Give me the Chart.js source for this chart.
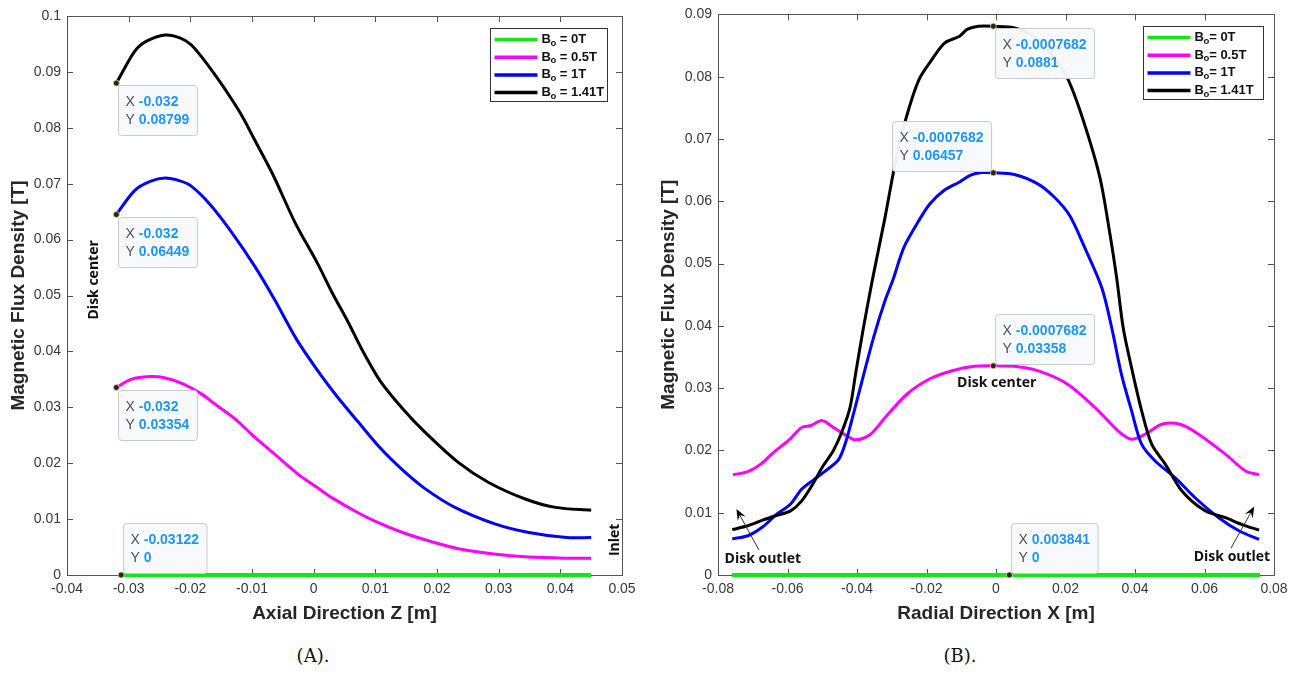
<!DOCTYPE html>
<html>
<head>
<meta charset="utf-8">
<script src="https://cdn.jsdelivr.net/npm/chart.js@4.4.1/dist/chart.umd.min.js"></script>
<style>
  html, body { margin: 0; padding: 0; background: #fff; }
  body { width: 1296px; height: 673px; position: relative; overflow: hidden; }
  .plot { position: absolute; top: 0; width: 648px; height: 640px; }
  .cap { position: absolute; top: 645px; width: 200px; text-align: center; line-height: 21px;
         font-family: "DejaVu Serif", "Liberation Serif", serif; font-size: 18px; color: #111; }
</style>
</head>
<body>
<div class="plot" style="left:0"><canvas id="plotA" width="648" height="640"></canvas></div>
<div class="plot" style="left:648px"><canvas id="plotB" width="648" height="640"></canvas></div>
<div class="cap" style="left:213px">(A).</div>
<div class="cap" style="left:860px">(B).</div>
<script>
// ---- data ----
var seriesLabels = ['Bo = 0T', 'Bo = 0.5T', 'Bo = 1T', 'Bo = 1.41T'];
var seriesLabelsB = ['Bo= 0T', 'Bo= 0.5T', 'Bo= 1T', 'Bo= 1.41T'];
var seriesColors = ['#14e614', '#ff00ff', '#0000ff', '#000000'];

// (A) axial direction
var zTicks = [-0.04, -0.03, -0.02, -0.01, 0, 0.01, 0.02, 0.03, 0.04, 0.05];
var fluxTicksA = [0, 0.01, 0.02, 0.03, 0.04, 0.05, 0.06, 0.07, 0.08, 0.09, 0.1];

var zGreen = [-0.0315, 0.045];
var bGreenA = [0, 0];

var zMag = [-0.032, -0.0296, -0.0266, -0.0242, -0.0212, -0.0182, -0.0158, -0.0127, -0.0097, -0.0061, -0.0025,
            0.0005, 0.003, 0.0066, 0.0102, 0.0144, 0.0187, 0.0235, 0.0289, 0.0349, 0.041, 0.045];
var bMagA = [0.03354, 0.0350, 0.0355, 0.0353, 0.0342, 0.0324, 0.0304, 0.0279, 0.0248, 0.0214, 0.0180,
             0.0157, 0.0138, 0.0115, 0.0095, 0.0076, 0.0061, 0.0047, 0.0038, 0.0032, 0.0030, 0.0030];

var zBlue = [-0.032, -0.029, -0.0265, -0.0241, -0.0217, -0.0199, -0.0169, -0.0133, -0.0096, -0.0063, -0.0028,
             0.0005, 0.0036, 0.0072, 0.0108, 0.0144, 0.018, 0.0229, 0.0295, 0.0349, 0.041, 0.045];
var bBlueA = [0.06449, 0.0688, 0.0704, 0.0710, 0.0705, 0.0696, 0.0664, 0.0613, 0.0553, 0.0492, 0.0422,
              0.0368, 0.0322, 0.0274, 0.0227, 0.0188, 0.0155, 0.0121, 0.0091, 0.0076, 0.0067, 0.0067];

var zBlack = [-0.032, -0.029, -0.0271, -0.0241, -0.0217, -0.0199, -0.0181, -0.0157, -0.0133, -0.0115, -0.0096,
              -0.0066, -0.003, 0.0006, 0.003, 0.0057, 0.0078, 0.0108, 0.0144, 0.018, 0.0235, 0.0283, 0.0343, 0.0392, 0.045];
var bBlackA = [0.08799, 0.0937, 0.0955, 0.0966, 0.0961, 0.0949, 0.0926, 0.0890, 0.0851, 0.0819, 0.0779,
               0.0716, 0.0630, 0.0558, 0.0505, 0.0450, 0.0404, 0.0347, 0.0298, 0.0256, 0.0201, 0.0166, 0.0136, 0.0121, 0.0116];

var tipZ = [-0.032, -0.032, -0.032, -0.03122];
var tipBA = [0.08799, 0.06449, 0.03354, 0];

// (B) radial direction
var xTicksB = [-0.08, -0.06, -0.04, -0.02, 0, 0.02, 0.04, 0.06, 0.08];
var fluxTicksB = [0, 0.01, 0.02, 0.03, 0.04, 0.05, 0.06, 0.07, 0.08, 0.09];

var rGreen = [-0.076, 0.076];
var bGreenB = [0, 0];

var rMag = [-0.0757, -0.0714, -0.0677, -0.064, -0.0597, -0.0559, -0.0533, -0.0501, -0.0468, -0.0431, -0.0404,
            -0.0361, -0.0319, -0.0255, -0.019, -0.0126, -0.0062, -0.0008, 0.0053, 0.012, 0.0207, 0.0294,
            0.0352, 0.039, 0.0429, 0.0477, 0.053, 0.0583, 0.066, 0.0718, 0.0757];
var bMagB = [0.0161, 0.0166, 0.0178, 0.0197, 0.0216, 0.0237, 0.0240, 0.0248, 0.0237, 0.0224, 0.0217,
             0.0226, 0.0253, 0.0291, 0.0315, 0.0328, 0.0335, 0.03358, 0.0335, 0.0328, 0.0306, 0.0264,
             0.0231, 0.0218, 0.0226, 0.0242, 0.0242, 0.0226, 0.0194, 0.0167, 0.0161];

var rBlue = [-0.0759, -0.0714, -0.0672, -0.063, -0.0591, -0.0559, -0.0522, -0.0484, -0.0452, -0.0431, -0.041,
             -0.0383, -0.0351, -0.0319, -0.0297, -0.0265, -0.0222, -0.019, -0.0148, -0.0105, -0.0073, -0.0041,
             -0.0008, 0.0053, 0.012, 0.0169, 0.0212, 0.0255, 0.0304, 0.0333, 0.0361, 0.039, 0.0419, 0.0458,
             0.0516, 0.0573, 0.0641, 0.0699, 0.0757];
var bBlueB = [0.0058, 0.0063, 0.0077, 0.0098, 0.0114, 0.0138, 0.0154, 0.0170, 0.0186, 0.0216, 0.0259,
              0.0317, 0.0384, 0.0441, 0.0473, 0.0526, 0.0569, 0.0596, 0.0618, 0.0631, 0.0642, 0.0646,
              0.06457, 0.0643, 0.0628, 0.0606, 0.0577, 0.0526, 0.0462, 0.0397, 0.0322, 0.0264, 0.0210, 0.0183,
              0.0156, 0.0124, 0.0092, 0.0071, 0.0057];

var rBlack = [-0.0759, -0.0714, -0.0672, -0.063, -0.0591, -0.0559, -0.0527, -0.05, -0.0468, -0.0442, -0.042,
              -0.0404, -0.0383, -0.0356, -0.0319, -0.0292, -0.026, -0.0222, -0.0185, -0.0148, -0.0105, -0.0083,
              -0.0051, -0.0008, 0.0056, 0.0115, 0.0165, 0.0207, 0.0251, 0.0299, 0.0328, 0.0347, 0.0366, 0.039,
              0.0419, 0.0448, 0.0487, 0.0535, 0.0602, 0.066, 0.0708, 0.0757];
var bBlackB = [0.0073, 0.0079, 0.0088, 0.0096, 0.0103, 0.0119, 0.0146, 0.0173, 0.0200, 0.0232, 0.0269,
               0.0323, 0.0392, 0.0473, 0.0575, 0.0655, 0.0731, 0.0795, 0.0827, 0.0854, 0.0865, 0.0876,
               0.0881, 0.0881, 0.0878, 0.0862, 0.0832, 0.0796, 0.0730, 0.0638, 0.0547, 0.0478, 0.0397, 0.0333,
               0.0264, 0.0210, 0.0178, 0.0135, 0.0103, 0.0092, 0.0081, 0.0072];

var tipR = [-0.0007682, -0.0007682, -0.0007682, 0.003841];
var tipBB = [0.0881, 0.06457, 0.03358, 0];

// ---- helpers ----
function pts(xs, ys) {
  return xs.map(function (v, i) { return { x: v, y: ys[i] }; });
}

var SANS = '"Liberation Sans", Arial, sans-serif';

function roundBox(ctx, x, y, w, h, r) {
  ctx.beginPath();
  ctx.moveTo(x + r, y);
  ctx.arcTo(x + w, y, x + w, y + h, r);
  ctx.arcTo(x + w, y + h, x, y + h, r);
  ctx.arcTo(x, y + h, x, y, r);
  ctx.arcTo(x, y, x + w, y, r);
  ctx.closePath();
}

var decor = {
  id: 'decor',
  beforeDatasetsDraw: function (chart) {
    var ctx = chart.ctx, a = chart.chartArea, xs = chart.scales.x, ys = chart.scales.y;
    ctx.save();
    ctx.strokeStyle = '#555';
    ctx.lineWidth = 1;
    ctx.beginPath();
    xs.ticks.forEach(function (t) {
      var p = Math.round(xs.getPixelForValue(t.value)) + 0.5;
      ctx.moveTo(p, a.bottom); ctx.lineTo(p, a.bottom - 6);
      ctx.moveTo(p, a.top); ctx.lineTo(p, a.top + 6);
    });
    ys.ticks.forEach(function (t) {
      var p = Math.round(ys.getPixelForValue(t.value)) + 0.5;
      ctx.moveTo(a.left, p); ctx.lineTo(a.left + 6, p);
      ctx.moveTo(a.right, p); ctx.lineTo(a.right - 6, p);
    });
    ctx.stroke();
    ctx.strokeRect(Math.round(a.left) + 0.5, Math.round(a.top) + 0.5,
                   Math.round(a.right - a.left), Math.round(a.bottom - a.top));
    ctx.restore();
  },
  afterDatasetsDraw: function (chart, args, o) {
    var ctx = chart.ctx, a = chart.chartArea, xs = chart.scales.x, ys = chart.scales.y;
    ctx.save();

    // text notes
    ctx.fillStyle = '#111';
    ctx.font = 'bold 14px "Open Sans", ' + SANS;
    ctx.textAlign = 'center';
    ctx.textBaseline = 'middle';
    (o.notes || []).forEach(function (n) {
      ctx.save();
      ctx.translate(xs.getPixelForValue(n.x), ys.getPixelForValue(n.y));
      ctx.rotate((n.rot || 0) * Math.PI / 180);
      ctx.fillText(n.text, 0, 0);
      ctx.restore();
    });

    // arrows
    (o.arrows || []).forEach(function (r) {
      var x1 = xs.getPixelForValue(r.x1), y1 = ys.getPixelForValue(r.y1);
      var x2 = xs.getPixelForValue(r.x2), y2 = ys.getPixelForValue(r.y2);
      var ang = Math.atan2(y2 - y1, x2 - x1);
      ctx.strokeStyle = '#333';
      ctx.lineWidth = 1;
      ctx.beginPath(); ctx.moveTo(x1, y1); ctx.lineTo(x2 - 6 * Math.cos(ang), y2 - 6 * Math.sin(ang)); ctx.stroke();
      ctx.fillStyle = '#000';
      ctx.beginPath();
      ctx.moveTo(x2, y2);
      ctx.lineTo(x2 - 11 * Math.cos(ang) + 4.5 * Math.sin(ang), y2 - 11 * Math.sin(ang) - 4.5 * Math.cos(ang));
      ctx.lineTo(x2 - 7 * Math.cos(ang), y2 - 7 * Math.sin(ang));
      ctx.lineTo(x2 - 11 * Math.cos(ang) - 4.5 * Math.sin(ang), y2 - 11 * Math.sin(ang) + 4.5 * Math.cos(ang));
      ctx.closePath();
      ctx.fill();
    });

    // data tips
    var T = o.tips;
    if (T) {
      var fLab = '14px ' + SANS, fVal = 'bold 14px ' + SANS;
      T.x.forEach(function (vx, i) {
        var vy = T.y[i];
        var mx = xs.getPixelForValue(vx), my = ys.getPixelForValue(vy);
        var sx = String(vx), sy = String(vy);
        ctx.font = fLab;
        var lw = ctx.measureText('X ').width;
        ctx.font = fVal;
        var w = lw + Math.max(ctx.measureText(sx).width, ctx.measureText(sy).width) + 15;
        var h = 50, bx, by;
        var pl = T.place[i];
        if (pl === 'br') { bx = mx + 2; by = my + 2; }
        else if (pl === 'tr') { bx = mx + 2; by = my - h - 2; }
        else { bx = mx - w - 2; by = my - h - 2; }
        bx = Math.round(bx) + 0.5; by = Math.round(by) + 0.5;
        roundBox(ctx, bx, by, w, h, 3);
        ctx.fillStyle = 'rgba(248,249,253,0.96)';
        ctx.fill();
        ctx.strokeStyle = '#c9c9cf';
        ctx.lineWidth = 1;
        ctx.stroke();
        ctx.textAlign = 'left';
        ctx.textBaseline = 'middle';
        [['X ', sx], ['Y ', sy]].forEach(function (row, k) {
          var ty = by + 17 + k * 18;
          ctx.font = fLab; ctx.fillStyle = '#505050';
          ctx.fillText(row[0], bx + 7, ty);
          ctx.font = fVal; ctx.fillStyle = '#1e98f2';
          ctx.fillText(row[1], bx + 7 + lw, ty);
        });
        // marker
        ctx.beginPath();
        ctx.arc(mx, my, 3, 0, Math.PI * 2);
        ctx.fillStyle = '#262626';
        ctx.fill();
        ctx.strokeStyle = '#e6d98a';
        ctx.lineWidth = 0.8;
        ctx.stroke();
      });
    }

    // legend
    var L = o.legend;
    var x0 = Math.round(a.right - L.inset - L.w) + 0.5, y0 = Math.round(a.top + 12) + 0.5;
    ctx.fillStyle = '#fff';
    ctx.fillRect(x0, y0, L.w, 73);
    ctx.strokeStyle = '#333';
    ctx.lineWidth = 1;
    ctx.strokeRect(x0, y0, L.w, 73);
    chart.data.datasets.slice(0, 4).forEach(function (d, i) {
      var yy = y0 + 11 + i * 17.7;
      ctx.strokeStyle = d.borderColor;
      ctx.lineWidth = 3.5;
      ctx.beginPath(); ctx.moveTo(x0 + 4, yy); ctx.lineTo(x0 + 47, yy); ctx.stroke();
      ctx.fillStyle = '#111';
      ctx.textAlign = 'left';
      ctx.textBaseline = 'middle';
      var tx = x0 + 51;
      ctx.font = 'bold 13px ' + SANS;
      ctx.fillText('B', tx, yy);
      tx += ctx.measureText('B').width;
      ctx.font = 'bold 9.5px ' + SANS;
      ctx.fillText('o', tx - 0.5, yy + 3.5);
      tx += ctx.measureText('o').width - 0.5;
      ctx.font = 'bold 13px ' + SANS;
      ctx.fillText(d.label.slice(2), tx, yy);
    });
    ctx.restore();
  }
};

function makeSets(labels, xsList, ysList) {
  return labels.map(function (lab, i) {
    return {
      label: lab,
      data: pts(xsList[i], ysList[i]),
      borderColor: seriesColors[i],
      borderWidth: i === 0 ? 4 : 3,
      pointRadius: 0,
      tension: 0.3,
      clip: 6,
      order: 3 - i
    };
  });
}

function makeChart(id, sets, xTicks, yTicks, xRange, yRange, xTitle, yAxisW, yTitlePad, padL, padR, padT, deco) {
  return new Chart(document.getElementById(id).getContext('2d'), {
    type: 'line',
    data: { datasets: sets },
    options: {
      responsive: false,
      animation: false,
      layout: { padding: { left: padL, right: padR, top: padT, bottom: 0 } },
      plugins: { legend: { display: false }, tooltip: { enabled: false }, decor: deco },
      scales: {
        x: {
          type: 'linear', min: xRange[0], max: xRange[1],
          afterBuildTicks: function (s) { s.ticks = xTicks.map(function (v) { return { value: v }; }); },
          afterFit: function (s) { s.height = 65; },
          grid: { display: false, drawTicks: false },
          border: { display: false },
          ticks: { padding: 6, color: '#383838', font: { family: SANS, size: 14 },
                   maxRotation: 0, autoSkip: false, callback: function (v) { return String(v); } },
          title: { display: true, text: xTitle, color: '#262626',
                   font: { family: SANS, size: 19, weight: 'bold' }, padding: { top: 4, bottom: 15 } }
        },
        y: {
          type: 'linear', min: yRange[0], max: yRange[1],
          afterBuildTicks: function (s) { s.ticks = yTicks.map(function (v) { return { value: v }; }); },
          afterFit: function (s) { s.width = yAxisW; },
          grid: { display: false, drawTicks: false },
          border: { display: false },
          ticks: { padding: 6, color: '#383838', font: { family: SANS, size: 14 },
                   autoSkip: false, callback: function (v) { return String(v); } },
          title: { display: true, text: 'Magnetic Flux Density [T]', color: '#262626',
                   font: { family: SANS, size: 19, weight: 'bold' }, padding: { top: yTitlePad, bottom: 0 } }
        }
      }
    },
    plugins: [decor]
  });
}

var setsA = makeSets(seriesLabels, [zGreen, zMag, zBlue, zBlack], [bGreenA, bMagA, bBlueA, bBlackA]);
var chartA = makeChart('plotA', setsA, zTicks, fluxTicksA, [-0.04, 0.05], [0, 0.1],
  'Axial Direction Z [m]', 67, 7, 0, 26, 16, {
    legend: { w: 117, inset: 15 },
    tips: { x: tipZ, y: tipBA, place: ['br', 'br', 'br', 'tr'] },
    notes: [
      { text: 'Disk center', x: -0.0357, y: 0.0528, rot: -90 },
      { text: 'Inlet', x: 0.0488, y: 0.0063, rot: -90 }
    ]
  });

var setsB = makeSets(seriesLabelsB, [rGreen, rMag, rBlue, rBlack], [bGreenB, bMagB, bBlueB, bBlackB]);
var chartB = makeChart('plotB', setsB, xTicksB, fluxTicksB, [-0.08, 0.08], [0, 0.09],
  'Radial Direction X [m]', 70, 9, 0, 22, 14, {
    legend: { w: 120, inset: 11 },
    tips: { x: tipR, y: tipBB, place: ['br', 'tl', 'tr', 'tr'] },
    notes: [
      { text: 'Disk center', x: 0.0002, y: 0.0309, rot: 0 },
      { text: 'Disk outlet', x: -0.0671, y: 0.0026, rot: 0 },
      { text: 'Disk outlet', x: 0.0679, y: 0.0029, rot: 0 }
    ],
    arrows: [
      { x1: -0.0682, y1: 0.0040, x2: -0.0747, y2: 0.0106 },
      { x1: 0.0676, y1: 0.0043, x2: 0.0743, y2: 0.0110 }
    ]
  });
</script>
</body>
</html>
